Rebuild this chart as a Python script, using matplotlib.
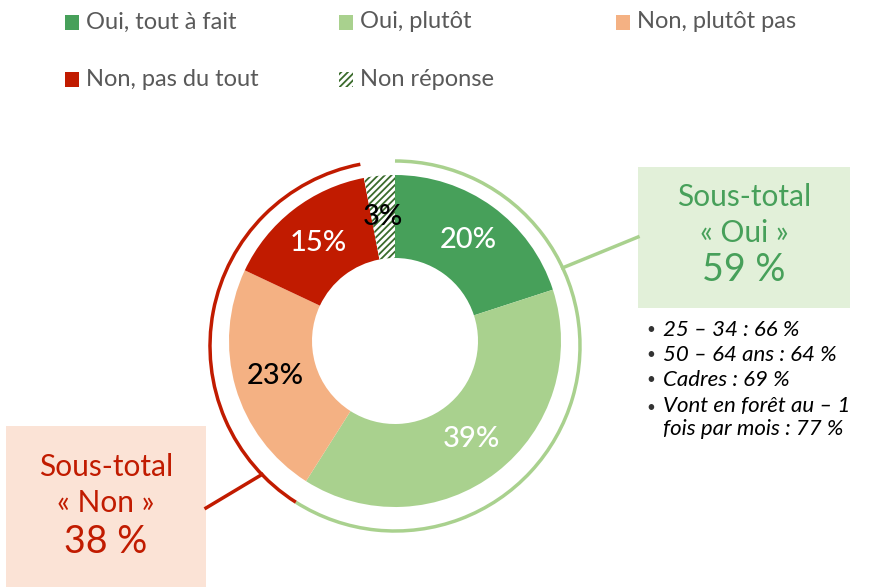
import numpy as np
import matplotlib
matplotlib.use("Agg")
import matplotlib.pyplot as plt
from matplotlib.patches import Arc, Rectangle

plt.rcParams['font.family'] = ['Lato', 'DejaVu Sans']
plt.rcParams['hatch.linewidth'] = 1.3

# Data
categories = ['Oui, tout à fait', 'Oui, plutôt', 'Non, plutôt pas', 'Non, pas du tout', 'Non réponse']
values = [20, 39, 23, 15, 3]
colors = ['#47A05A', '#A9D18E', '#F4B183', '#C11B00', 'white']
label_colors = ['white', 'white', 'black', 'white', 'black']
subtotal_oui = 59
subtotal_non = 38
details_oui = ['25 – 34 : 66 %', '50 – 64 ans : 64 %', 'Cadres : 69 %',
               'Vont en forêt au – 1\nfois par mois : 77 %']

W, H = 869, 587
fig = plt.figure(figsize=(W / 100, H / 100), dpi=100)
ax = fig.add_axes([0, 0, 1, 1])

# donut (pixel coords, y up)
cx, cy = 395, H - 341
r_out, r_w = 166, 83
wedges, _, pcts = ax.pie(values, colors=colors, startangle=90, counterclock=False,
                         radius=r_out, center=(cx, cy),
                         wedgeprops=dict(width=r_w, linewidth=0),
                         autopct=lambda p: f'{p:.0f}%', pctdistance=0.75,
                         textprops=dict(fontsize=21, fontweight='medium'))
for t, c in zip(pcts, label_colors):
    t.set_color(c)
wedges[4].set_edgecolor('#3A6B2C')
wedges[4].set_hatch('/////')

ax.set_xlim(0, W)
ax.set_ylim(0, H)
ax.set_aspect('auto')
ax.axis('off')

# outer arcs for sub-totals
rx, ry, R = 395, H - 346, 185
tot = sum(values)
a_oui = 90 - 360 * subtotal_oui / tot
a_non = a_oui - 360 * subtotal_non / tot
ax.add_patch(Arc((rx, ry), 2 * R, 2 * R, theta1=a_oui, theta2=90, color='#A9D18E', lw=2.5))
ax.add_patch(Arc((rx, ry), 2 * R, 2 * R, theta1=a_non, theta2=a_oui, color='#C11B00', lw=2.5))

# connector lines
def ring_pt(ang):
    return rx + R * np.cos(np.radians(ang)), ry + R * np.sin(np.radians(ang))

x0, y0 = ring_pt(25)
ax.plot([x0, 638], [y0, H - 237], color='#A9D18E', lw=2.5)
x0, y0 = ring_pt(224)
ax.plot([x0, 206], [y0, H - 508], color='#C11B00', lw=2.5)

# subtotal boxes
ax.add_patch(Rectangle((638, H - 308), 212, 141, color='#E2F0D9', lw=0))
ax.text(744, H - 197, 'Sous-total', color='#47A05A', fontsize=21.5, ha='center', va='center')
ax.text(744, H - 233, '« Oui »', color='#47A05A', fontsize=21.5, ha='center', va='center')
ax.text(744, H - 270, f'{subtotal_oui} %', color='#47A05A', fontsize=27, ha='center', va='center')

ax.add_patch(Rectangle((6, 0), 200, H - 426, color='#FBE3D6', lw=0))
ax.text(106, H - 467, 'Sous-total', color='#C11B00', fontsize=21.5, ha='center', va='center')
ax.text(106, H - 503, '« Non »', color='#C11B00', fontsize=21.5, ha='center', va='center')
ax.text(106, H - 542, f'{subtotal_non} %', color='#C11B00', fontsize=27, ha='center', va='center')

# bullet details
ys = [330, 355, 380, 408]
for y, txt in zip(ys, details_oui):
    ax.text(646, H - y, '•', fontsize=11, va='center', ha='left', color='#333333')
    ax.text(663, H - y, txt, fontsize=16, style='italic', va='center', ha='left')
ax.texts[-1].set_va('top')
ax.texts[-1].set_y(H - 396)
ax.texts[-1].set_linespacing(1.2)

# legend
leg_pos = [(65, 22), (339, 22), (616, 22), (65, 79), (339, 79)]
for (lx, ly), cat, col in zip(leg_pos, categories, colors):
    sq = Rectangle((lx, H - ly - 7.5), 14, 15, facecolor=col, lw=0)
    if col == 'white':
        sq.set_edgecolor('#3A6B2C')
        sq.set_hatch('/////')
    ax.add_patch(sq)
    ax.text(lx + 21, H - ly, cat, color='#595959', fontsize=17, va='center', ha='left')

fig.savefig('out.png', dpi=100)
